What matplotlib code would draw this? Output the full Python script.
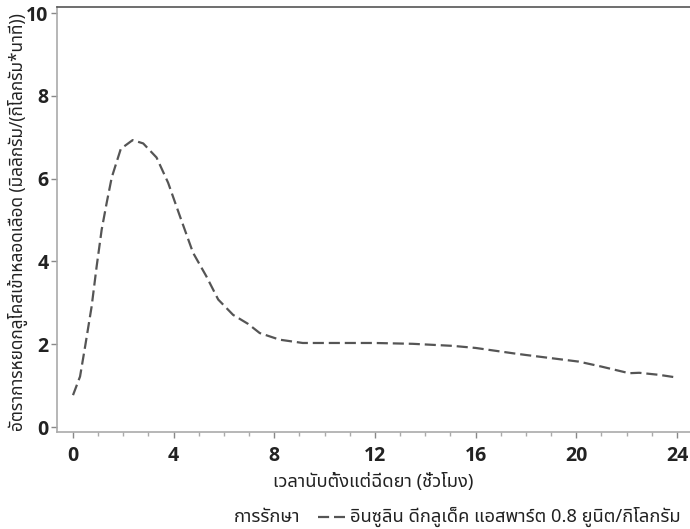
import matplotlib
matplotlib.use('Agg')
import matplotlib.pyplot as plt
from matplotlib.lines import Line2D
from matplotlib.ticker import MultipleLocator

# glucose infusion rate after dosing
hours = [0.0, 0.28, 0.48, 0.74, 0.94, 1.14, 1.34, 1.54, 1.9, 2.37, 2.79, 3.32,
         3.78, 4.25, 4.77, 5.3, 5.77, 6.36, 6.96, 7.42, 8.21, 9.13, 10.86,
         12.0, 13.5, 15.1, 16.0, 17.5, 18.0, 20.1, 21.0, 22.1, 22.5, 23.3, 23.95]
rate = [0.77, 1.22, 1.94, 2.91, 3.88, 4.77, 5.42, 6.03, 6.72, 6.93, 6.85, 6.51,
        5.90, 5.09, 4.21, 3.64, 3.08, 2.71, 2.49, 2.27, 2.11, 2.03, 2.03,
        2.03, 2.01, 1.96, 1.91, 1.78, 1.74, 1.58, 1.46, 1.30, 1.31, 1.26, 1.20]

x_ticks = [0, 4, 8, 12, 16, 20, 24]
y_ticks = [0, 2, 4, 6, 8, 10]

xlabel = 'เวลานับตั้งแต่ฉีดยา (ชั่วโมง)'
ylabel = 'อัตราการหยดกลูโคสเข้าหลอดเลือด (มิลลิกรัม/(กิโลกรัม*นาที))'
legend_title = 'การรักษา'
series_name = 'อินซูลิน ดีกลูเด็ค แอสพาร์ต 0.8 ยูนิต/กิโลกรัม'

thai = ['Noto Sans Thai', 'DejaVu Sans']
num_font = 'Open Sans'
txt = '#222222'
dash = (0, (5, 2.2))

fig = plt.figure(figsize=(6.9, 5.29), dpi=100)
ax = fig.add_axes([57 / 690, 97 / 529, 633 / 690, 425 / 529])

ax.plot(hours, rate, color='#555555', lw=1.6, linestyle=dash)

ax.set_xlim(-0.636, 24.52)
ax.set_ylim(-0.12, 10.145)
ax.set_xticks(x_ticks)
ax.set_yticks(y_ticks)
ax.xaxis.set_minor_locator(MultipleLocator(1))

ax.spines['right'].set_visible(False)
ax.spines['top'].set_color('#555555')
ax.spines['top'].set_linewidth(1.2)
for s in ['left', 'bottom']:
    ax.spines[s].set_color('#aaaaaa')
    ax.spines[s].set_linewidth(1.2)

ax.tick_params(axis='both', which='major', length=4, width=1, color='#888888',
               labelcolor=txt, labelsize=14)
ax.tick_params(axis='x', which='minor', length=3, width=1, color='#aaaaaa')
ax.tick_params(axis='y', which='major', pad=2)
ax.tick_params(axis='x', which='major', pad=6)
for lab in ax.get_xticklabels() + ax.get_yticklabels():
    lab.set_family(num_font)
    lab.set_weight('bold')

ax.set_xlabel(xlabel, family=thai, fontsize=13.2, color=txt, labelpad=5)
fig.text(18 / 690, 1 - 222 / 529, ylabel, family=thai, fontsize=12.4,
         color=txt, rotation=90, ha='center', va='center')

# legend row under the x label
fig.text(300 / 690, 1 - 517 / 529, legend_title, family=thai, fontsize=13.2,
         color=txt, ha='right', va='center')
fig.add_artist(Line2D([318 / 690, 345 / 690], [1 - 517 / 529, 1 - 517 / 529],
                      color='#555555', lw=1.6, linestyle=dash))
fig.text(350 / 690, 1 - 517 / 529, series_name, family=thai, fontsize=13.2,
         color=txt, ha='left', va='center')

fig.savefig('out.png', dpi=100)
